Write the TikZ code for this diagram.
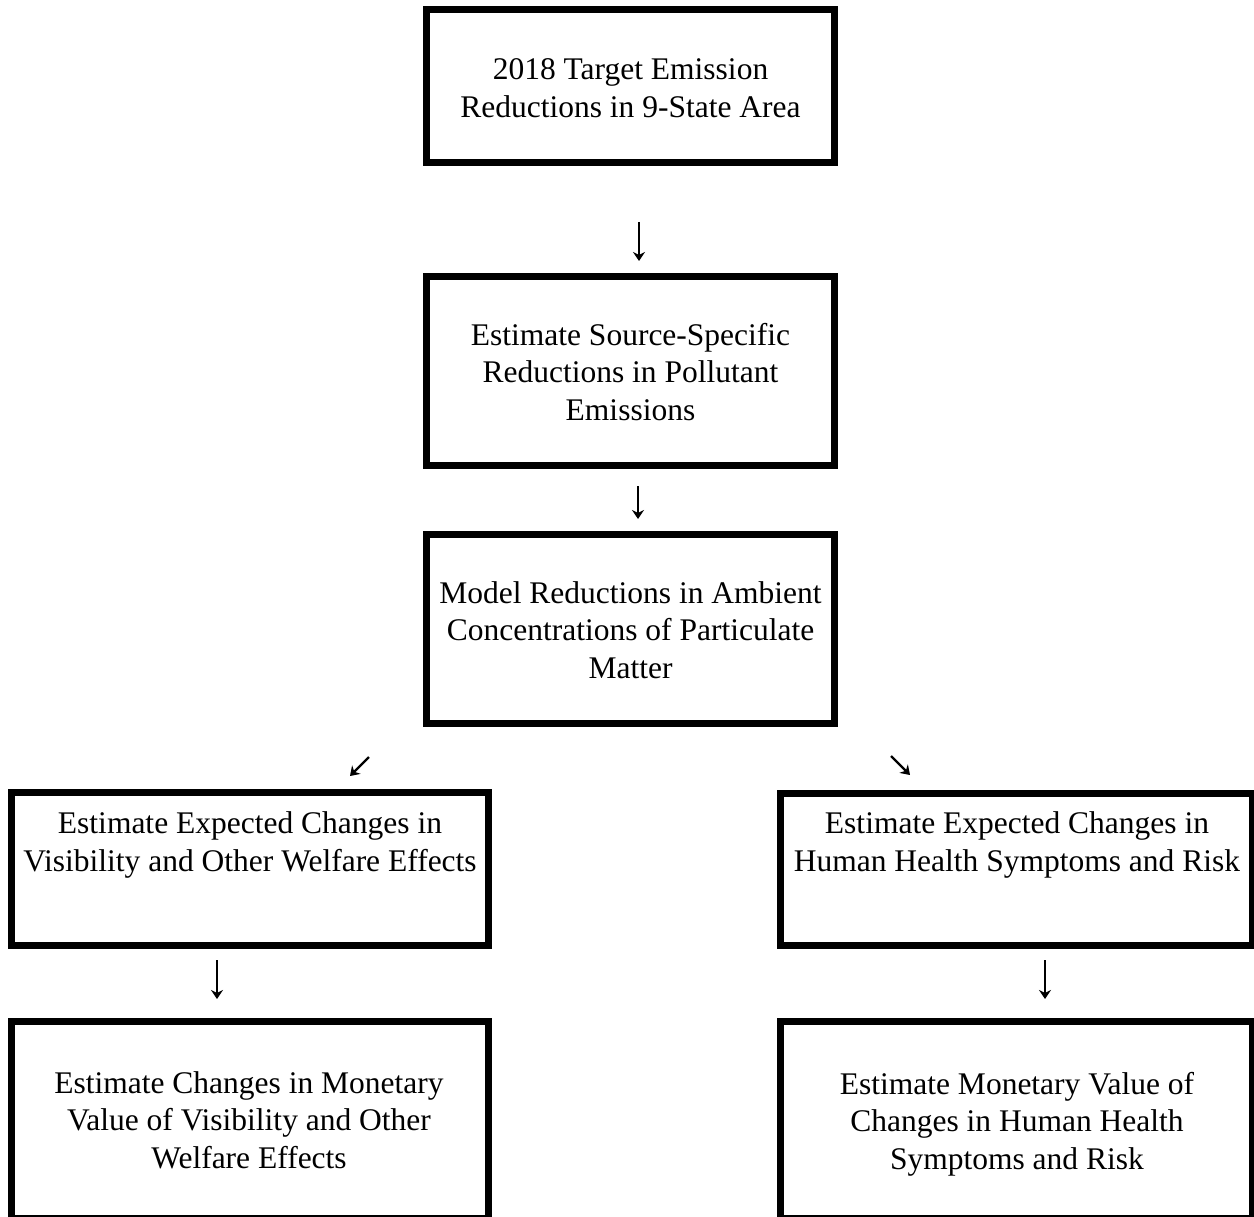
\documentclass[tikz,border=0pt]{standalone}
\usepackage{fontspec}
\setmainfont{Liberation Serif}
\usetikzlibrary{arrows.meta}
\begin{document}
\begin{tikzpicture}[x=1pt,y=-1pt,
  box/.style={draw=black,line width=7pt,rectangle,inner sep=0pt,fill=none},
  txt/.style={align=center,inner sep=0pt,font=\fontsize{31.5}{37.5}\selectfont},
  arr/.style={line width=2.3pt,-{Stealth[length=9pt,width=12pt,inset=3pt]}}]
\useasboundingbox (0,0) rectangle (1254,1217);
\begin{scope}
\clip (0,0) rectangle (1254,1217);
% boxes
\node[box,minimum width=408pt,minimum height=153pt] (b1) at (630.5,86) {};
\node[box,minimum width=408pt,minimum height=189pt] (b2) at (630.5,371) {};
\node[box,minimum width=408pt,minimum height=189pt] (b3) at (630.5,629) {};
\node[box,minimum width=477pt,minimum height=153pt] (b4) at (250,869) {};
\node[box,minimum width=472pt,minimum height=152pt] (b5) at (1016.5,869.5) {};
\node[box,minimum width=477pt,minimum height=197pt] (b6) at (250,1120) {};
\node[box,minimum width=472pt,minimum height=197pt] (b7) at (1016.5,1120) {};
\end{scope}
% texts
\node[txt] (t1) at (630.5,88) {2018 Target Emission\\Reductions in 9-State Area};
\node[txt] (t2) at (630.5,372) {Estimate Source-Specific\\Reductions in Pollutant\\Emissions};
\node[txt] (t3) at (630.5,630) {Model Reductions in Ambient\\Concentrations of Particulate\\Matter};
\node[txt] (t4) at (250,845) {Estimate Expected Changes in\\Visibility and Other Welfare Effects};
\node[txt] (t5) at (1017,845) {Estimate Expected Changes in\\Human Health Symptoms and Risk};
\node[txt] (t6) at (249,1120) {Estimate Changes in Monetary\\Value of Visibility and Other\\Welfare Effects};
\node[txt] (t7) at (1017,1124) {Estimate Monetary Value of\\Changes in Human Health\\Symptoms and Risk};
% arrow coordinates
\coordinate (a1s) at (639,222); \coordinate (a1e) at (639,261);
\coordinate (a2s) at (638,486); \coordinate (a2e) at (638,519);
\coordinate (a3s) at (369,757); \coordinate (a3e) at (350,776);
\coordinate (a4s) at (891,756); \coordinate (a4e) at (910,775);
\coordinate (a5s) at (217,960); \coordinate (a5e) at (217,999);
\coordinate (a6s) at (1045,960); \coordinate (a6e) at (1045,999);
\draw[arr] (a1s) -- (a1e);
\draw[arr] (a2s) -- (a2e);
\draw[arr] (a3s) -- (a3e);
\draw[arr] (a4s) -- (a4e);
\draw[arr] (a5s) -- (a5e);
\draw[arr] (a6s) -- (a6e);
\end{tikzpicture}
\end{document}
